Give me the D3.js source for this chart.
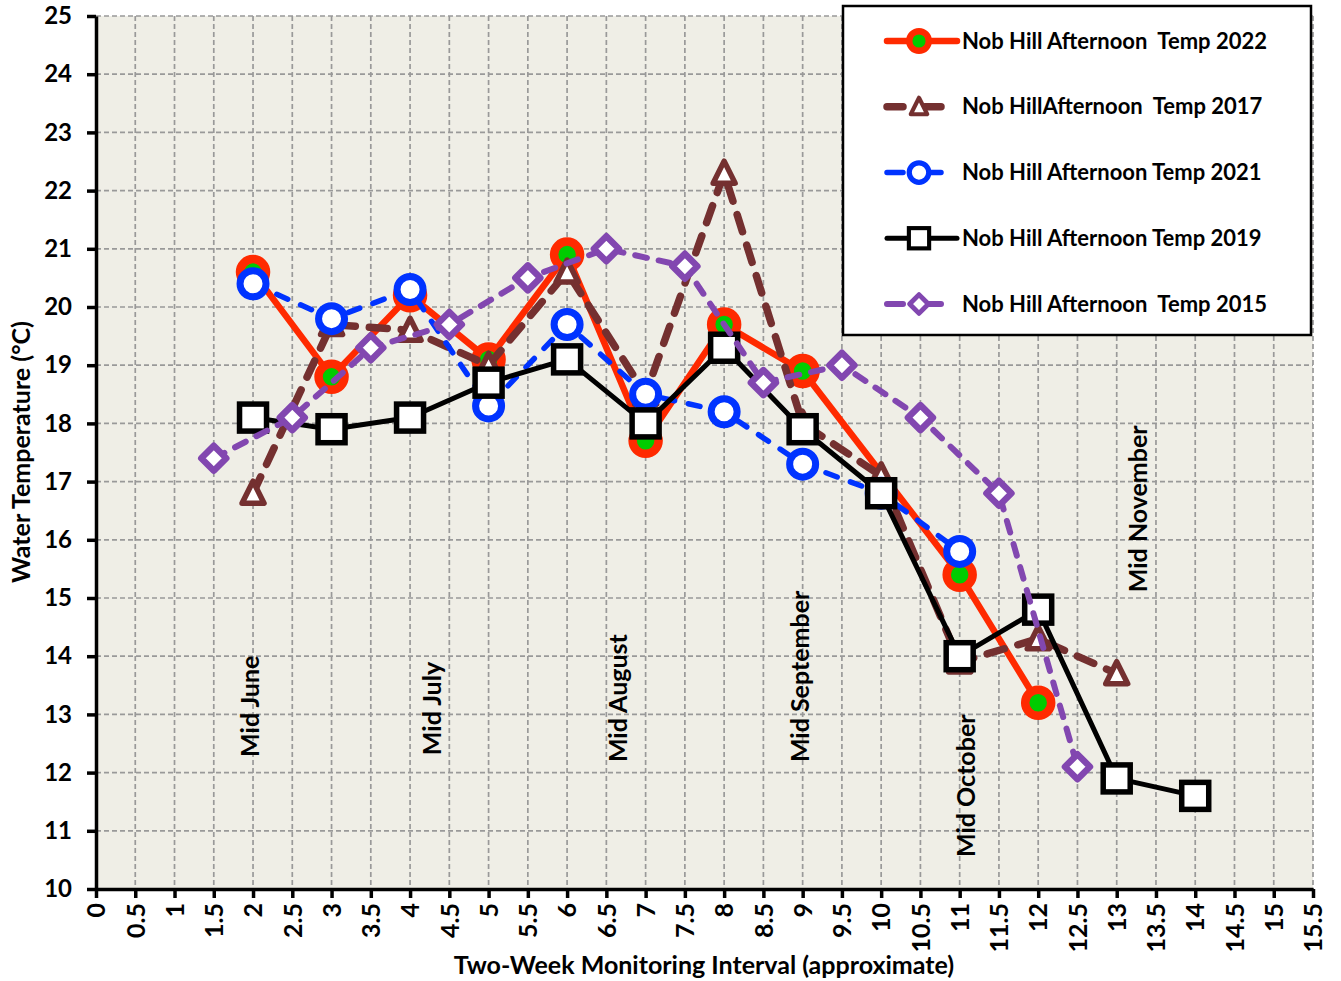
<!DOCTYPE html>
<html>
<head>
<meta charset="utf-8">
<script src="https://cdn.jsdelivr.net/npm/d3@7"></script>
<style>
  body { margin: 0; background: #fff; }
  text { font-family: Lato, "Open Sans", sans-serif; font-weight: bold; fill: #000; }
</style>
</head>
<body>
<div id="chart"></div>
<script>
var W = 1341, H = 981;

// data: two-week monitoring intervals and afternoon temperatures (°C)
var weeks = [2, 3, 4, 5, 6, 7, 8, 9, 10, 11, 12, 13, 14];
var temp2022 = [20.6, 18.8, 20.2, 19.1, 20.9, 17.7, 19.7, 18.9, null, 15.4, 13.2, null, null];
var temp2017 = [16.8, 19.7, 19.6, 19.0, 20.6, 18.5, 22.3, 18.0, 17.1, 13.9, 14.3, 13.7, null];
var temp2021 = [20.4, 19.8, 20.3, 18.3, 19.7, 18.5, 18.2, 17.3, 16.8, 15.8, null, null, null];
var temp2019 = [18.1, 17.9, 18.1, 18.7, 19.1, 18.0, 19.3, 17.9, 16.8, 14.0, 14.8, 11.9, 11.6];
var weeks2015 = [1.5, 2.5, 3.5, 4.5, 5.5, 6.5, 7.5, 8.5, 9.5, 10.5, 11.5, 12.5];
var temp2015 = [17.4, 18.1, 19.3, 19.7, 20.5, 21.0, 20.7, 18.7, 19.0, 18.1, 16.8, 12.1];

var seriesNames = ['Nob Hill Afternoon  Temp 2022', 'Nob HillAfternoon  Temp 2017',
                   'Nob Hill Afternoon Temp 2021', 'Nob Hill Afternoon Temp 2019',
                   'Nob Hill Afternoon  Temp 2015'];

var xTickLabels = ['0', '0.5', '1', '1.5', '2', '2.5', '3', '3.5', '4', '4.5', '5', '5.5',
                   '6', '6.5', '7', '7.5', '8', '8.5', '9', '9.5', '10', '10.5', '11', '11.5',
                   '12', '12.5', '13', '13.5', '14', '14.5', '15', '15.5'];
var yTickLabels = ['10', '11', '12', '13', '14', '15', '16', '17', '18', '19', '20',
                   '21', '22', '23', '24', '25'];

// month notes: label, interval, temperature where the text starts
var notes = [
  { label: 'Mid June', x: 1.96, y: 12.27 },
  { label: 'Mid July', x: 4.28, y: 12.3 },
  { label: 'Mid August', x: 6.65, y: 12.18 },
  { label: 'Mid September', x: 8.97, y: 12.18 },
  { label: 'Mid October', x: 11.08, y: 10.55 },
  { label: 'Mid November', x: 13.27, y: 15.1 }
];

function pairs(xs, ys) {
  return xs.map(function(d, i) { return { x: d, y: ys[i] }; })
           .filter(function(d) { return d.y != null; });
}

var series = [
  { name: seriesNames[0], pts: pairs(weeks, temp2022), color: '#ff2a00', width: 6.5, dash: null,
    marker: 'circleG' },
  { name: seriesNames[1], pts: pairs(weeks, temp2017), color: '#743030', width: 7.5, dash: '18,14',
    marker: 'triangle' },
  { name: seriesNames[2], pts: pairs(weeks, temp2021), color: '#0033ff', width: 5.5, dash: '12,14',
    marker: 'circle' },
  { name: seriesNames[3], pts: pairs(weeks, temp2019), color: '#000000', width: 5, dash: null,
    marker: 'square' },
  { name: seriesNames[4], pts: pairs(weeks2015, temp2015), color: '#8247b0', width: 6, dash: '12,12',
    marker: 'diamond' }
];

var pLeft = 96, pRight = 1313, pTop = 16, pBottom = 889;

var x = d3.scaleLinear().domain([0, 15.5]).range([pLeft, pRight]);
var y = d3.scaleLinear().domain([10, 25]).range([pBottom, pTop]);

var svg = d3.select('#chart').append('svg')
  .attr('width', W)
  .attr('height', H);

// plot background
svg.append('rect')
  .attr('x', pLeft).attr('y', pTop)
  .attr('width', pRight - pLeft).attr('height', pBottom - pTop)
  .attr('fill', '#efeee6');

// dashed grid
var grid = svg.append('g');
grid.selectAll('.gx')
  .data(xTickLabels.slice(1))
  .enter().append('line')
    .attr('x1', function(d) { return x(+d); })
    .attr('x2', function(d) { return x(+d); })
    .attr('y1', pTop).attr('y2', pBottom)
    .attr('stroke', '#999').attr('stroke-width', 1.7).attr('stroke-dasharray', '5,3');
grid.selectAll('.gy')
  .data(yTickLabels.slice(1))
  .enter().append('line')
    .attr('y1', function(d) { return y(+d); })
    .attr('y2', function(d) { return y(+d); })
    .attr('x1', pLeft).attr('x2', pRight)
    .attr('stroke', '#999').attr('stroke-width', 1.7).attr('stroke-dasharray', '5,3');

// axes
var yAxis = d3.axisLeft(y)
  .tickValues(yTickLabels.map(Number))
  .tickFormat(function(d, i) { return yTickLabels[i]; })
  .tickSize(9).tickSizeOuter(0).tickPadding(15);
var gy = svg.append('g').attr('transform', 'translate(' + pLeft + ',0)').call(yAxis);
gy.select('.domain').attr('stroke-width', 3.5);
gy.selectAll('.tick line').attr('stroke-width', 3.5);
gy.selectAll('.tick text').style('font-size', '24px').attr('font-family', null);

var xAxis = d3.axisBottom(x)
  .tickValues(xTickLabels.map(Number))
  .tickFormat(function(d, i) { return xTickLabels[i]; })
  .tickSize(9).tickSizeOuter(0);
var gx = svg.append('g').attr('transform', 'translate(0,' + pBottom + ')').call(xAxis);
gx.select('.domain').attr('stroke-width', 3.5);
gx.selectAll('.tick line').attr('stroke-width', 3.5);
gx.selectAll('.tick text')
  .style('font-size', '25px')
  .attr('font-family', null)
  .attr('text-anchor', 'end')
  .attr('dy', '0.35em')
  .attr('transform', 'translate(0,5) rotate(-90)')
  .attr('x', -9).attr('y', 0);

// axis titles
svg.append('text')
  .attr('x', 704).attr('y', 974)
  .attr('text-anchor', 'middle')
  .style('font-size', '25px')
  .text('Two-Week Monitoring Interval (approximate)');
svg.append('text')
  .attr('transform', 'translate(30,452) rotate(-90)')
  .attr('text-anchor', 'middle')
  .style('font-size', '25px')
  .text('Water Temperature (°C)');

// month notes
svg.selectAll('.note')
  .data(notes)
  .enter().append('text')
    .attr('transform', function(d) { return 'translate(' + x(d.x) + ',' + y(d.y) + ') rotate(-90)'; })
    .attr('dy', '0.35em')
    .style('font-size', '25px')
    .text(function(d) { return d.label; });

// lines and markers
var line = d3.line()
  .x(function(d) { return x(d.x); })
  .y(function(d) { return y(d.y); });

function drawMarker(g, s) {
  if (s.marker === 'circleG') {
    g.append('circle').attr('r', 13).attr('fill', '#00cc00')
      .attr('stroke', s.color).attr('stroke-width', 8.5);
  } else if (s.marker === 'circle') {
    g.append('circle').attr('r', 13).attr('fill', '#fff')
      .attr('stroke', s.color).attr('stroke-width', 7);
  } else if (s.marker === 'square') {
    g.append('rect').attr('x', -13.5).attr('y', -13.5).attr('width', 27).attr('height', 27)
      .attr('fill', '#fff').attr('stroke', s.color).attr('stroke-width', 5.5);
  } else if (s.marker === 'diamond') {
    g.append('path').attr('d', 'M0,-12.5L12.5,0L0,12.5L-12.5,0Z')
      .attr('fill', '#fff').attr('stroke', s.color).attr('stroke-width', 6.5)
      .attr('stroke-linejoin', 'round');
  } else if (s.marker === 'triangle') {
    g.append('path').attr('d', 'M0,-12L11,10L-11,10Z')
      .attr('fill', '#fff').attr('stroke', s.color).attr('stroke-width', 5.5)
      .attr('stroke-linejoin', 'round');
  }
}

series.forEach(function(s) {
  var g = svg.append('g');
  g.append('path')
    .datum(s.pts)
    .attr('fill', 'none')
    .attr('stroke', s.color)
    .attr('stroke-width', s.width)
    .attr('stroke-dasharray', s.dash)
    .attr('stroke-linecap', s.dash ? 'round' : 'butt')
    .attr('stroke-linejoin', 'round')
    .attr('d', line);
  g.selectAll('.m')
    .data(s.pts)
    .enter().append('g')
      .attr('transform', function(d) { return 'translate(' + x(d.x) + ',' + y(d.y) + ')'; })
      .each(function() { drawMarker(d3.select(this), s); });
});

// legend
var lg = svg.append('g').attr('transform', 'translate(843,6)');
lg.append('rect')
  .attr('width', 468).attr('height', 329)
  .attr('fill', '#fff').attr('stroke', '#000').attr('stroke-width', 2.5);

var rowY = d3.scalePoint().domain(seriesNames).range([35, 298]);

series.forEach(function(s) {
  var r = lg.append('g').attr('transform', 'translate(0,' + rowY(s.name) + ')');
  r.append('line')
    .attr('x1', 44).attr('x2', 114)
    .attr('stroke', s.color).attr('stroke-width', s.width)
    .attr('stroke-dasharray', s.dash ? '16,22' : null)
    .attr('stroke-linecap', 'round');
  var m = r.append('g').attr('transform', 'translate(76,0) scale(0.75)');
  drawMarker(m, s);
  r.append('text')
    .attr('x', 119).attr('y', 0).attr('dy', '0.35em')
    .attr('xml:space', 'preserve')
    .style('white-space', 'pre')
    .style('font-size', '22px')
    .text(s.name);
});
</script>
</body>
</html>
